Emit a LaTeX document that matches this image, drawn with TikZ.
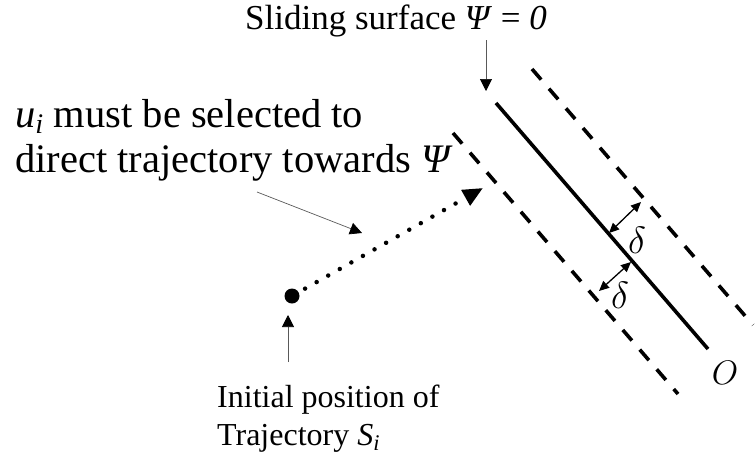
\RequirePackage{fix-cm}
\documentclass[tikz,border=0pt]{standalone}
\usepackage{fontspec}
\setmainfont{Liberation Serif}
\usetikzlibrary{arrows.meta}

\begin{document}
\begin{tikzpicture}[x=1pt, y=-1pt,
  lbl/.style={inner sep=0pt, anchor=base west},
  surf/.style={line width=3.6pt},
  band/.style={line width=3.6pt, dash pattern=on 14pt off 12pt},
  ptr/.style={draw=black!65, line width=0.7pt, -{Triangle[length=12pt, width=12pt, black]}},
  traj/.style={line width=4.5pt, line cap=round, dash pattern=on 0pt off 13.3pt, dash phase=6pt,
               -{Triangle[length=20pt, width=17pt, line cap=butt]}},
  gap/.style={line width=1.3pt, {Triangle[length=10pt, width=9pt]}-{Triangle[length=10pt, width=9pt]}}
]
  \useasboundingbox (0,0) rectangle (756,459);

  % sliding surface and boundary layer
  \coordinate (s1) at (496,103);
  \coordinate (s2) at (708,349);
  \coordinate (r1) at (532,69);
  \coordinate (r2) at (753,325);
  \coordinate (l1) at (453,133);
  \coordinate (l2) at (678,394);
  \draw[surf] (s1) -- (s2);
  \draw[band] (r1) -- (r2);
  \draw[band] (l1) -- (l2);

  % labels
  \node[lbl, font=\fontsize{35}{40}\selectfont] (title) at (245,29)
    {Sliding surface \textit{Ψ} = \textit{0}};
  \node[inner sep=0pt, anchor=north west, align=left, font=\fontsize{40.5}{45}\selectfont] (rule) at (15,99)
    {\textit{u}\textsubscript{\textit{i}} must be selected to\\direct trajectory towards \textit{Ψ}};
  \node[inner sep=0pt, anchor=north west, align=left, font=\fontsize{32}{38}\selectfont] (start) at (217,385)
    {Initial position of\\Trajectory \textit{S}\textsubscript{\textit{i}}};
  \node[font=\fontsize{38}{44}\selectfont] (d1) at (637,240) {$\delta$};
  \node[font=\fontsize{38}{44}\selectfont] (d2) at (620,295) {$\delta$};
  \node[font=\fontsize{34}{40}\selectfont] (o) at (725,373) {$O$};

  % trajectory
  \node[circle, fill, inner sep=0pt, minimum size=15pt] (init) at (292,296) {};
  \coordinate (aim) at (483,188);
  \draw[traj] (init) -- (aim);

  % pointers
  \coordinate (p1) at (486,40);
  \coordinate (p2) at (486,91);
  \draw[ptr] (p1) -- (p2);
  \coordinate (q1) at (257,192);
  \coordinate (q2) at (362,233);
  \draw[ptr] (q1) -- (q2);
  \coordinate (w1) at (288,362);
  \coordinate (w2) at (288,315);
  \draw[ptr] (w1) -- (w2);

  % width of the layer
  \coordinate (a1) at (609,233);
  \coordinate (a2) at (641,202);
  \draw[gap] (a1) -- (a2);
  \coordinate (b1) at (599,291);
  \coordinate (b2) at (631,262);
  \draw[gap] (b1) -- (b2);
\end{tikzpicture}
\end{document}
